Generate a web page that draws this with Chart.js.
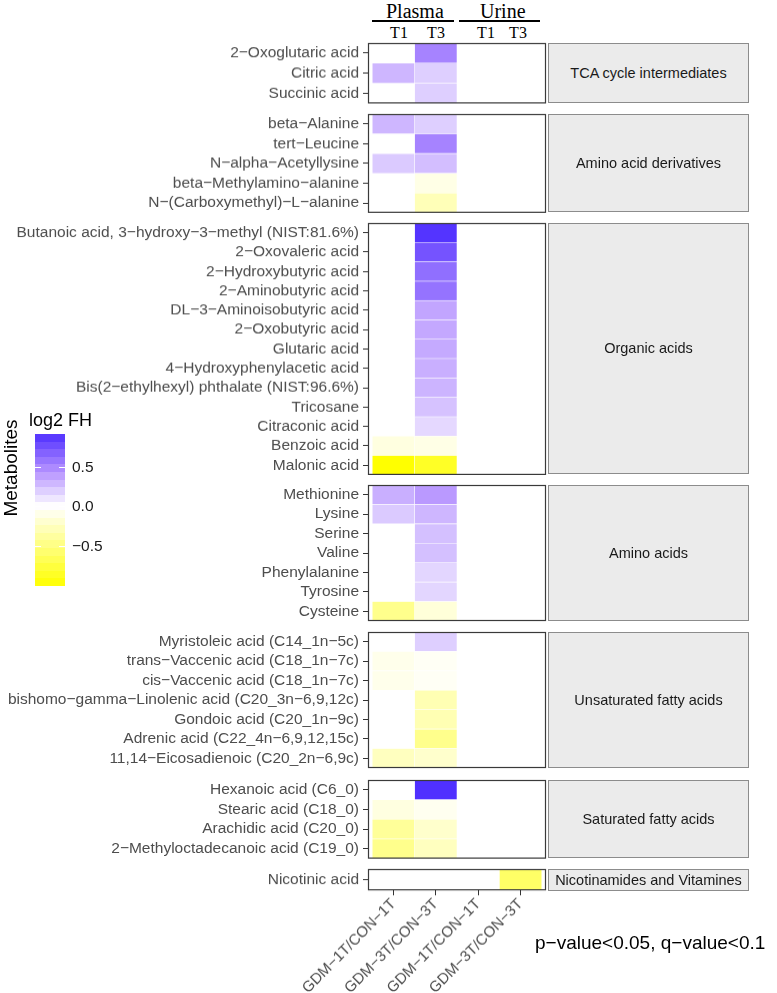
<!DOCTYPE html>
<html>
<head>
<meta charset="utf-8">
<script src="https://cdn.jsdelivr.net/npm/chart.js@4.4.0/dist/chart.umd.min.js"></script>
<style>
body{margin:0;background:#fff;width:777px;height:993px;position:relative;overflow:hidden;font-family:"Liberation Sans",Arial,sans-serif}
.abs{position:absolute;white-space:nowrap}
.strip{position:absolute;left:548px;width:201px;background:#ebebeb;border:1px solid #8c8c8c;box-sizing:border-box;display:flex;align-items:center;justify-content:center;font-size:14.5px;color:#1a1a1a;z-index:2;white-space:nowrap}
.serif{font-family:"Liberation Serif","Times New Roman",serif;color:#000}
.line{position:absolute;height:2px;background:#000}
.box{position:absolute;left:0;width:560px}
</style>
</head>
<body>
<div id="root"></div>
<script>
// facet groups, in plotting order
var groups = ['TCA cycle intermediates', 'Amino acid derivatives', 'Organic acids', 'Amino acids',
    'Unsaturated fatty acids', 'Saturated fatty acids', 'Nicotinamides and Vitamines']
var groupSizes = [3, 5, 13, 7, 7, 4, 1]
var metabolites = [
    '2−Oxoglutaric acid', 'Citric acid', 'Succinic acid',
    'beta−Alanine', 'tert−Leucine', 'N−alpha−Acetyllysine', 'beta−Methylamino−alanine', 'N−(Carboxymethyl)−L−alanine',
    'Butanoic acid, 3−hydroxy−3−methyl (NIST:81.6%)', '2−Oxovaleric acid', '2−Hydroxybutyric acid', '2−Aminobutyric acid',
    'DL−3−Aminoisobutyric acid', '2−Oxobutyric acid', 'Glutaric acid', '4−Hydroxyphenylacetic acid',
    'Bis(2−ethylhexyl) phthalate (NIST:96.6%)', 'Tricosane', 'Citraconic acid', 'Benzoic acid', 'Malonic acid',
    'Methionine', 'Lysine', 'Serine', 'Valine', 'Phenylalanine', 'Tyrosine', 'Cysteine',
    'Myristoleic acid (C14_1n−5c)', 'trans−Vaccenic acid (C18_1n−7c)', 'cis−Vaccenic acid (C18_1n−7c)',
    'bishomo−gamma−Linolenic acid (C20_3n−6,9,12c)', 'Gondoic acid (C20_1n−9c)', 'Adrenic acid (C22_4n−6,9,12,15c)',
    '11,14−Eicosadienoic (C20_2n−6,9c)',
    'Hexanoic acid (C6_0)', 'Stearic acid (C18_0)', 'Arachidic acid (C20_0)', '2−Methyloctadecanoic acid (C19_0)',
    'Nicotinic acid'
]
// log2 FH per comparison (null = not significant)
var plasmaT1 = [null, 0.30, null,
    0.30, null, 0.22, null, null,
    null, null, null, null, null, null, null, null, null, null, null, -0.12, -1.00,
    0.33, 0.22, null, null, null, null, -0.45,
    null, -0.08, -0.08, null, null, null, -0.25,
    null, -0.12, -0.40, -0.45,
    null]
var plasmaT3 = [0.52, 0.20, 0.20,
    0.20, 0.52, 0.27, -0.10, -0.28,
    0.90, 0.75, 0.62, 0.60, 0.37, 0.36, 0.35, 0.33, 0.31, 0.25, 0.16, -0.10, -0.85,
    0.42, 0.30, 0.26, 0.26, 0.17, 0.17, -0.15,
    0.20, -0.04, -0.04, -0.30, -0.30, -0.45, -0.20,
    0.92, -0.06, -0.20, -0.25,
    null]
var urineT1 = [null, null, null, null, null, null, null, null, null, null, null, null, null, null, null, null, null, null, null, null,
    null, null, null, null, null, null, null, null, null, null, null, null, null, null, null, null, null, null, null, null]
var urineT3 = [null, null, null, null, null, null, null, null, null, null, null, null, null, null, null, null, null, null, null, null,
    null, null, null, null, null, null, null, null, null, null, null, null, null, null, null, null, null, null, null, -0.60]
var columnLabels = ['GDM−1T/CON−1T', 'GDM−3T/CON−3T', 'GDM−1T/CON−1T', 'GDM−3T/CON−3T']
var legendTicks = [0.5, 0.0, -0.5]
var fillMin = -1.0
var fillMax = 0.92

var root = document.getElementById('root')
function add(cls, css, text) {
    var d = document.createElement('div')
    d.className = cls
    d.style.cssText = css
    if (text != null) d.textContent = text
    root.appendChild(d)
    return d
}

//颜色
var stops = [[-1.0, [255, 255, 0]], [0, [255, 255, 255]], [0.45, [181, 146, 255]], [0.92, [80, 48, 255]]]
function fillColor(v) {
    if (v == null) return 'rgba(0,0,0,0)'
    v = Math.max(fillMin, Math.min(fillMax, v))
    for (var i = 0; i < stops.length - 1; i++) {
        if (v <= stops[i + 1][0]) {
            var t = (v - stops[i][0]) / (stops[i + 1][0] - stops[i][0])
            var a = stops[i][1], b = stops[i + 1][1]
            return 'rgb(' + a.map(function (x, k) { return Math.round(x + (b[k] - x) * t) }).join(',') + ')'
        }
    }
}

var panelBorder = {
    id: 'panelBorder',
    afterDatasetsDraw: function (chart) {
        var a = chart.chartArea, ctx = chart.ctx
        ctx.save()
        ctx.strokeStyle = '#3a3a3a'
        ctx.lineWidth = 1.2
        ctx.strokeRect(a.left + 0.5, a.top + 0.5, a.width - 1, a.height - 1)
        ctx.restore()
    }
}

var ROW_H = 19.15, PAD = 1, GAP = 11.2, TOP = 43.4
var LEFT_W = 368, XAXIS_H = 110
var FONT = { size: 15.5, family: 'Liberation Sans' }
var start = 0, panelY = TOP
groups.forEach(function (g, gi) {
    var n = groupSizes[gi]
    var names = metabolites.slice(start, start + n)
    var cols = [plasmaT1, plasmaT3, urineT1, urineT3].map(function (a) { return a.slice(start, start + n) })
    var h = n * ROW_H + 2 * PAD
    var last = gi === groups.length - 1

    add('strip', 'top:' + panelY + 'px;height:' + h + 'px', g)

    var box = add('box', 'top:' + (panelY - 1) + 'px;height:' + (h + 1 + (last ? XAXIS_H : 1)) + 'px')
    var cv = document.createElement('canvas')
    box.appendChild(cv)

    new Chart(cv.getContext('2d'), {
        type: 'bar',
        data: {
            labels: names,
            datasets: cols.map(function (vals, ci) {
                return {
                    data: vals.map(function (v) { return v == null ? null : [ci - 0.5, ci + 0.5] }),
                    backgroundColor: vals.map(fillColor),
                    borderColor: 'rgba(255,255,255,0.7)',
                    borderWidth: 0.6,
                    borderSkipped: false,
                    grouped: false,
                    barPercentage: 1,
                    categoryPercentage: 1
                }
            })
        },
        options: {
            indexAxis: 'y',
            responsive: true,
            maintainAspectRatio: false,
            animation: false,
            layout: { padding: { top: 1, bottom: last ? 0 : 1, left: 0, right: 14 } },
            plugins: { legend: { display: false }, tooltip: { enabled: false } },
            scales: {
                y: {
                    type: 'category',
                    offset: true,
                    grid: { display: true, drawOnChartArea: false, drawTicks: true, tickLength: 5, tickColor: '#333', offset: false },
                    border: { display: false },
                    ticks: { color: '#4d4d4d', font: FONT, padding: 4, autoSkip: false },
                    afterFit: function (s) {
                        s.width = LEFT_W
                        s.paddingTop = 0
                        s.paddingBottom = 0
                    }
                },
                x: {
                    type: 'linear',
                    min: -0.6,
                    max: 3.6,
                    display: last,
                    afterBuildTicks: function (s) { s.ticks = [0, 1, 2, 3].map(function (v) { return { value: v } }) },
                    grid: { display: true, drawOnChartArea: false, drawTicks: true, tickLength: 5, tickColor: '#333' },
                    border: { display: false },
                    ticks: {
                        autoSkip: false, maxRotation: 45, minRotation: 45, color: '#4d4d4d', padding: 0,
                        font: { size: 15, family: 'Liberation Sans' },
                        callback: function (v) { return columnLabels[v] }
                    },
                    afterFit: function (s) {
                        s.height = last ? XAXIS_H : 0
                        s.paddingLeft = 0
                        s.paddingRight = 0
                    }
                }
            }
        },
        plugins: [panelBorder]
    })
    start += n
    panelY += h + GAP
})

// 表头
add('abs serif', 'left:386px;top:0px;font-size:20px', 'Plasma')
add('abs serif', 'left:480px;top:0px;font-size:20px', 'Urine')
add('line', 'left:372px;top:20px;width:82px')
add('line', 'left:459px;top:20px;width:81px')
var headX = [399, 436, 486, 518]
;['T1', 'T3', 'T1', 'T3'].forEach(function (t, i) {
    add('abs serif', 'left:' + (headX[i] - 20) + 'px;width:40px;text-align:center;top:24px;font-size:16px', t)
})

// 图例
add('abs', 'left:29px;top:410px;font-size:18px;color:#000', 'log2 FH')
var barTop = 434, barH = 152, nb = 20, parts = []
for (var i = 0; i < nb; i++) {
    var v = fillMax - (i + 0.5) * (fillMax - fillMin) / nb
    var c = fillColor(v)
    parts.push(c + ' ' + (i * 100 / nb) + '%', c + ' ' + ((i + 1) * 100 / nb) + '%')
}
add('abs', 'left:35px;top:' + barTop + 'px;width:30px;height:' + barH + 'px;background:linear-gradient(to bottom,' + parts.join(',') + ')')
legendTicks.forEach(function (t) {
    var y = barTop + (fillMax - t) / (fillMax - fillMin) * barH
    add('abs', 'left:35px;top:' + (y - 0.5) + 'px;width:6px;height:1px;background:#fff')
    add('abs', 'left:59px;top:' + (y - 0.5) + 'px;width:6px;height:1px;background:#fff')
    add('abs', 'left:72px;top:' + (y - 9.5) + 'px;font-size:15.5px;color:#1a1a1a', t.toFixed(1).replace('-', '−'))
})
add('abs', 'left:-49px;top:457px;width:120px;text-align:center;font-size:19px;color:#000;transform:rotate(-90deg)', 'Metabolites')
add('abs', 'left:535px;top:932px;font-size:19px;color:#000', 'p−value<0.05, q−value<0.1')
</script>
</body>
</html>
